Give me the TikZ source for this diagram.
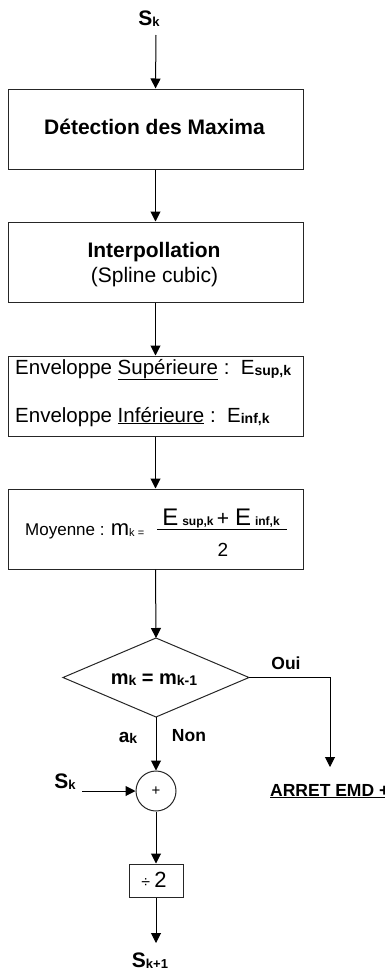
\documentclass[tikz,border=0pt]{standalone}
\usepackage{fontspec}
\setmainfont{Liberation Sans}
\usetikzlibrary{arrows.meta}
\newcommand\fsz[1]{\fontsize{#1}{#1}\selectfont}
\newcommand\subk[2]{\raisebox{-1.5pt}{\fsz{#1}#2}}
\begin{document}
\begin{tikzpicture}[x=1pt,y=-1pt,
  box/.style={draw=black!85, line width=1pt, inner sep=0pt, minimum width=295pt},
  arr/.style={-{Triangle[width=10pt,length=10pt]}, line width=1pt},
  lbl/.style={inner sep=0pt, anchor=base},
  lblw/.style={inner sep=0pt, anchor=base west},
]
\useasboundingbox (0,0) rectangle (385,972);
% boxes
\node[box, minimum height=80pt] (b1) at (155.5,129) {};
\node[box, minimum height=80pt] (b2) at (155.5,262) {};
\node[box, minimum height=80pt] (b3) at (155.5,396) {};
\node[box, minimum height=80pt] (b4) at (155.5,529) {};
% diamond
\coordinate (dT) at (156,638);
\coordinate (dR) at (249,677.5);
\coordinate (dB) at (156,717);
\coordinate (dL) at (63,677.5);
\draw[line width=1pt, draw=black!85] (dT) -- (dR) -- (dB) -- (dL) -- cycle;
% circle and divider
\node[draw=black!85, line width=1pt, circle, minimum size=40pt, inner sep=0pt] (c) at (156,791) {\fsz{15}+};
\node[draw=black!85, line width=1pt, inner sep=0pt, minimum width=54pt, minimum height=33pt] (dv) at (156,880.5) {};
% free ends
\coordinate (s0) at (156,35);
\coordinate (aTop) at (330,767);
\coordinate (skL) at (82,791);
\coordinate (sEnd) at (156,943);
% texts
\node[lbl] (tsk) at (149,25) {\fsz{21}\bfseries S\subk{13}{k}};
\node[lbl] (t1) at (154.5,134) {\fsz{21}\bfseries Détection des Maxima};
\node[lbl] (t2a) at (154,257.5) {\fsz{21}\bfseries Interpollation};
\node[lbl] (t2b) at (154.5,282) {\fsz{21}(Spline cubic)};
\node[lblw] (t3a) at (15,374) {\fsz{20.5}Enveloppe \underline{Supérieure} :\ \ E\subk{14}{\bfseries sup,k}};
\node[lblw] (t3b) at (15,422) {\fsz{20.5}Enveloppe \underline{Inférieure} :\ \ E\subk{14}{\bfseries inf,k}};
\node[lblw] (t4) at (25,535) {\fsz{17}Moyenne : \fsz{22}m\subk{11}{k =}};
\node[lbl] (num) at (221,525) {\fsz{24}E\,\fsz{12}\bfseries sup,k \fsz{21}\mdseries+ \fsz{24}E\,\fsz{12}\bfseries inf,k};
\coordinate (fl1) at (157,529);
\coordinate (fl2) at (287,529);
\draw[line width=1pt] (fl1) -- (fl2);
\node[lbl] (den) at (223,556) {\fsz{19}2};
\node[lbl] (td) at (154,684) {\fsz{20}\bfseries m\subk{14}{k} = m\subk{14}{k-1}};
\node[lbl] (oui) at (286,669) {\fsz{17.5}\bfseries Oui};
\node[lbl] (ak) at (128,742) {\fsz{19}\bfseries a\subk{14}{k}};
\node[lbl] (non) at (189,741) {\fsz{17.5}\bfseries Non};
\node[lbl] (skl) at (65,788) {\fsz{21}\bfseries S\subk{13}{k}};
\node[lblw] (arret) at (270,796) {\fsz{17.5}\bfseries \underline{ARRET EMD +}};
\node[lbl] (tdv) at (154,887) {\fsz{16}÷ \fsz{22}2};
\node[lbl] (skp) at (150,967) {\fsz{21}\bfseries S\subk{13}{k+1}};
% connectors
\draw[arr] (s0) -- (b1.north);
\draw[arr] (b1.south) -- (b2.north);
\draw[arr] (b2.south) -- (b3.north);
\draw[arr] (b3.south) -- (b4.north);
\draw[arr] (b4.south) -- (dT);
\draw[arr] (dR) -| (aTop);
\draw[arr] (dB) -- (c.north);
\draw[arr] (skL) -- (c.west);
\draw[arr] (c.south) -- (dv.north);
\draw[arr] (dv.south) -- (sEnd);
\end{tikzpicture}
\end{document}
